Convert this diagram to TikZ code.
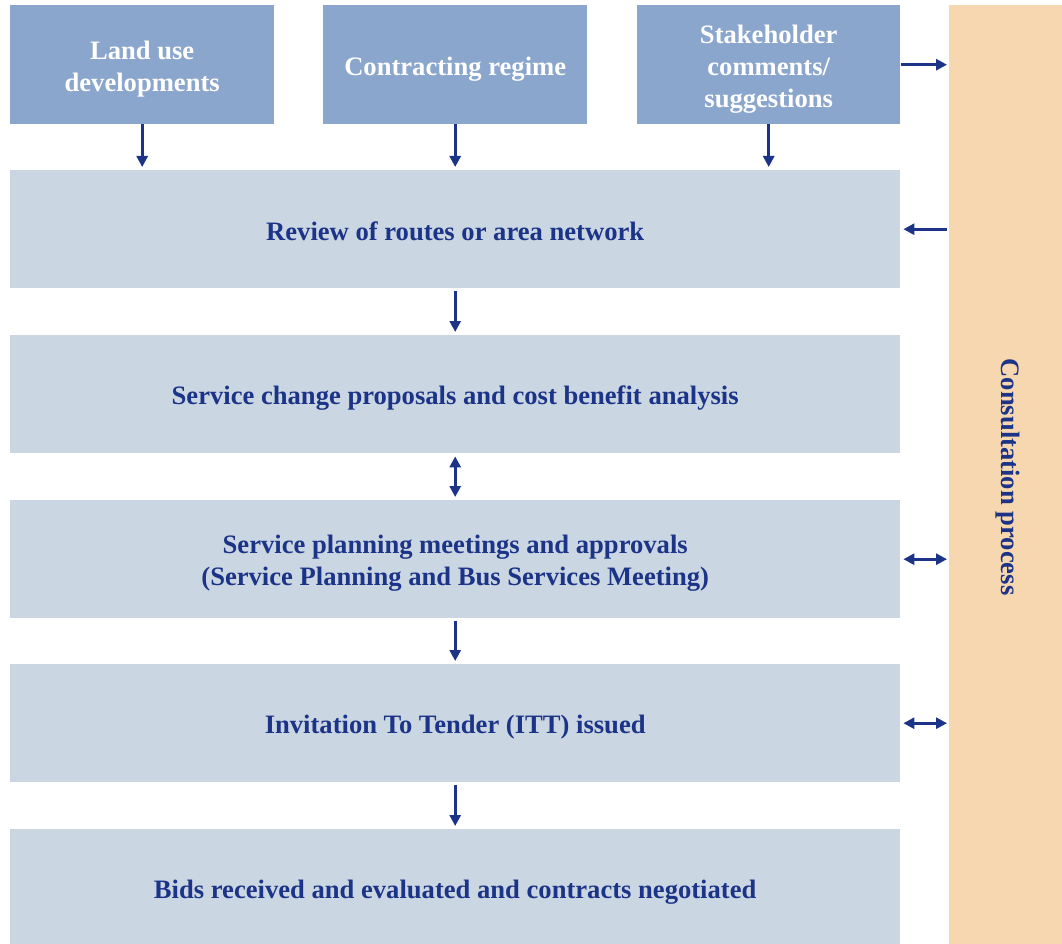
\documentclass[tikz,border=0pt]{standalone}
\usepackage{fontspec}
\setmainfont{Liberation Serif}
\usetikzlibrary{arrows.meta}
\definecolor{topblue}{HTML}{8AA6CC}
\definecolor{stepgrey}{HTML}{CBD6E3}
\definecolor{consult}{HTML}{F7D7AF}
\definecolor{ink}{HTML}{1C3487}
% fixed line box so every line sits on the same baseline grid
\newcommand{\lnbox}{\rule[-0.18em]{0pt}{1.18em}}
\newcommand{\boxfont}{\fontsize{26.6}{32}\selectfont\bfseries\lineskiplimit=-50pt\relax}
\tikzset{
  x=1pt, y=-1pt,
  inputbox/.style={rectangle, fill=topblue, anchor=north west, minimum width=264pt,
    minimum height=119pt, inner sep=0pt, text=white, align=center, font=\boxfont},
  stepbox/.style={rectangle, fill=stepgrey, anchor=north west, minimum width=890pt,
    minimum height=118pt, inner sep=0pt, text=ink, align=center, font=\boxfont},
  flow/.style={draw=ink, line width=3pt, -{Triangle[length=11pt,width=11pt]}},
  flowboth/.style={draw=ink, line width=3pt, {Triangle[length=11pt,width=11pt]}-{Triangle[length=11pt,width=11pt]}},
}
\begin{document}
\begin{tikzpicture}
\useasboundingbox (0,0) rectangle (1062,944);
\fill[white] (0,0) rectangle (1062,944);

% consultation column
\node[rectangle, fill=consult, anchor=north west, minimum width=113pt, minimum height=939pt, inner sep=0pt] (cons) at (949,5) {};
\node[rotate=-90, text=ink, font=\boxfont] (constext) at (1008,477) {Consultation process};

% input boxes
\node[inputbox] (land) at (10,5) {\lnbox Land use\\\lnbox developments};
\node[inputbox] (contract) at (323,5) {\lnbox Contracting regime};
\node[inputbox, minimum width=263pt] (stake) at (637,5) {\lnbox Stakeholder\\\lnbox comments/\\\lnbox suggestions};

% process steps
\node[stepbox] (review) at (10,170) {\lnbox Review of routes or area network};
\node[stepbox] (proposals) at (10,335) {\lnbox Service change proposals and cost benefit analysis};
\node[stepbox] (meetings) at (10,500) {\lnbox Service planning meetings and approvals\\\lnbox (Service Planning and Bus Services Meeting)};
\node[stepbox] (itt) at (10,664) {\lnbox Invitation To Tender (ITT) issued};
\node[stepbox] (bids) at (10,829) {\lnbox Bids received and evaluated and contracts negotiated};

% inputs feed the review
\draw[flow] (land.south) -- ([yshift=3pt]land.south |- review.north);
\draw[flow] (contract.south) -- ([yshift=3pt]contract.south |- review.north);
\draw[flow] (stake.south) -- ([yshift=3pt]stake.south |- review.north);

% main sequence
\draw[flow] ([yshift=-3pt]review.south) -- ([yshift=3pt]review.south |- proposals.north);
\draw[flowboth] ([yshift=-3pt]proposals.south) -- ([yshift=3pt]proposals.south |- meetings.north);
\draw[flow] ([yshift=-3pt]meetings.south) -- ([yshift=3pt]meetings.south |- itt.north);
\draw[flow] ([yshift=-3pt]itt.south) -- ([yshift=3pt]itt.south |- bids.north);

% links with the consultation process
\draw[flow] ([xshift=1pt]stake.east) -- ([xshift=-2pt]cons.west |- stake.east);
\draw[flow] ([xshift=-2pt]cons.west |- review.east) -- ([xshift=3pt]review.east);
\draw[flowboth] ([xshift=3pt]meetings.east) -- ([xshift=-2pt]cons.west |- meetings.east);
\draw[flowboth] ([xshift=3pt]itt.east) -- ([xshift=-2pt]cons.west |- itt.east);
\end{tikzpicture}
\end{document}
